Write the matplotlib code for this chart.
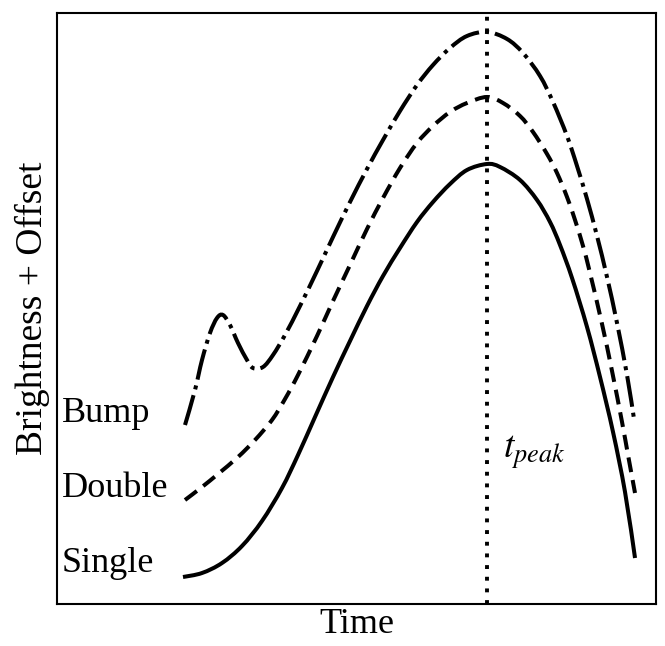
import matplotlib
matplotlib.use('Agg')
import matplotlib.pyplot as plt
import numpy as np
from matplotlib.path import Path
from matplotlib.patches import PathPatch

# light curve shapes (time in days from peak, brightness + offset)
single_t = [-30.4, -28.5, -26.5, -24.5, -22.5, -20.5, -18.9, -17.2, -15.4, -13.7,
            -12.0, -10.4, -8.7, -7.0, -5.4, -3.7, -2.0, 0.0, 1.3, 3.3,
            5.0, 6.3, 7.3, 8.5, 10.0, 11.3, 12.6, 13.8, 14.8]
single_b = [0.27, 0.31, 0.41, 0.58, 0.83, 1.16, 1.49, 1.87, 2.27, 2.63,
            2.98, 3.28, 3.56, 3.82, 4.02, 4.20, 4.34, 4.40, 4.37, 4.24,
            4.04, 3.82, 3.59, 3.26, 2.77, 2.27, 1.72, 1.12, 0.46]

double_t = [-30.2, -28.5, -26.9, -24.9, -23.2, -21.5, -20.2, -18.9, -17.0, -15.4,
            -13.7, -12.0, -10.4, -8.7, -7.0, -5.4, -3.7, -2.0, 0.0, 1.6,
            3.3, 4.6, 6.0, 7.0, 8.0, 8.8, 9.6, 10.3, 11.5, 12.5,
            13.5, 14.1, 14.8]
double_b = [1.04, 1.17, 1.30, 1.47, 1.64, 1.84, 2.05, 2.29, 2.68, 3.03,
            3.39, 3.75, 4.06, 4.36, 4.61, 4.78, 4.92, 5.01, 5.07, 5.01,
            4.88, 4.72, 4.50, 4.31, 4.07, 3.84, 3.58, 3.31, 2.80, 2.33,
            1.82, 1.49, 1.11]

bump_t = [-30.2, -29.2, -28.5, -27.7, -27.0, -26.4, -25.7, -24.9, -24.0, -23.4,
          -22.4, -21.4, -20.2, -18.7, -17.0, -15.4, -13.7, -12.0, -10.4, -8.7,
          -7.0, -5.4, -3.7, -2.0, 0.0, 2.0, 3.6, 5.3, 6.6, 8.0,
          9.0, 10.0, 11.0, 12.0, 13.0, 14.0, 14.7]
bump_b = [1.79, 2.14, 2.44, 2.71, 2.86, 2.89, 2.79, 2.61, 2.44, 2.36,
          2.37, 2.49, 2.69, 2.98, 3.33, 3.67, 4.02, 4.35, 4.64, 4.93,
          5.19, 5.39, 5.56, 5.68, 5.72, 5.65, 5.51, 5.28, 5.02, 4.68,
          4.38, 4.05, 3.68, 3.27, 2.81, 2.29, 1.85]

labels = ['Bump', 'Double', 'Single']
label_y = [1.91, 1.16, 0.41]
t_peak = 0.0


def smooth_path(t, b):
    # Catmull-Rom through the points, drawn as cubic Bezier segments
    p = np.column_stack([t, b])
    p = np.vstack([p[0], p, p[-1]])
    verts = [p[1]]
    codes = [Path.MOVETO]
    for i in range(1, len(p) - 2):
        c1 = p[i] + (p[i + 1] - p[i - 1]) / 6
        c2 = p[i + 1] - (p[i + 2] - p[i]) / 6
        verts += [c1, c2, p[i + 1]]
        codes += [Path.CURVE4] * 3
    return Path(verts, codes)


plt.rcParams['font.family'] = ['Liberation Serif', 'DejaVu Serif']
plt.rcParams['mathtext.fontset'] = 'stix'

fig = plt.figure(figsize=(6.65, 6.46), dpi=100)
ax = fig.add_axes([0.0857, 0.065, 0.9008, 0.9149])

lw = 2.9
styles = [(single_t, single_b, '-'),
          (double_t, double_b, (0, (3.7, 2.0))),
          (bump_t, bump_b, (0, (7.7, 1.5, 1.0, 1.5)))]
for t, b, ls in styles:
    ax.add_patch(PathPatch(smooth_path(t, b), fill=False, edgecolor='black',
                           lw=lw, linestyle=ls, capstyle='butt'))
ax.axvline(t_peak, color='black', lw=2.8, dashes=(1.0, 2.0))

for lab, y in zip(labels, label_y):
    ax.text(-42.5, y, lab, fontsize=26, ha='left', va='center')
ax.text(1.6, 1.52, r'$t_{peak}$', fontsize=27, ha='left', va='center')

ax.set_xlim(-43.0, 16.9)
ax.set_ylim(0, 5.91)
ax.set_xticks([])
ax.set_yticks([])
for s in ax.spines.values():
    s.set_linewidth(1.5)
ax.set_xlabel('Time', fontsize=26, labelpad=3)
ax.set_ylabel('Brightness + Offset', fontsize=27, labelpad=5)

fig.savefig('out.png', dpi=100)
